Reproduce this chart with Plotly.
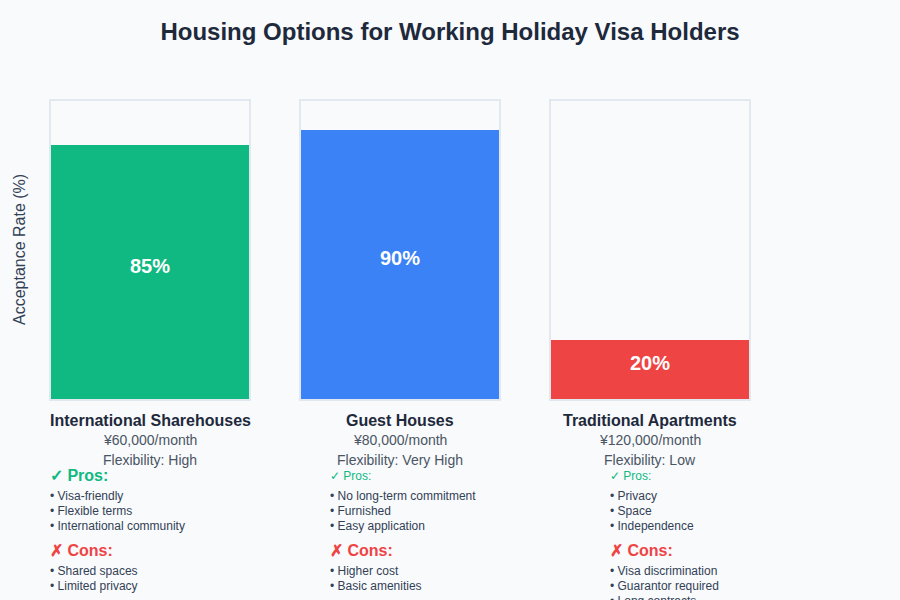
import plotly.graph_objects as go

# data
categories = ["International Sharehouses", "Guest Houses", "Traditional Apartments"]
acceptance = [85, 90, 20]
prices = ["¥60,000/month", "¥80,000/month", "¥120,000/month"]
flexibility = ["High", "Very High", "Low"]
pros = [
    ["Visa-friendly", "Flexible terms", "International community"],
    ["No long-term commitment", "Furnished", "Easy application"],
    ["Privacy", "Space", "Independence"],
]
cons = [
    ["Shared spaces", "Limited privacy"],
    ["Higher cost", "Basic amenities"],
    ["Visa discrimination", "Guarantor required", "Long contracts"],
]
bar_colors = ["#10b981", "#3b82f6", "#ef4444"]

FONT = "Liberation Sans, Arial, sans-serif"
DARK = "#1e293b"
TEXT = "#334155"
GREY = "#4b5563"
GREEN = "#10b981"
RED = "#ef4444"


def px_x(px):
    # pixel -> x data (bar spacing 250px, plot starts at 0)
    return px / 250 - 0.6


def px_y(px):
    # pixel -> y data (0% at 400px, 100% at 100px)
    return (400 - px) / 3


def paper_x(px):
    return px / 900


def paper_y(px):
    # plot area spans 95px..405px
    return (405 - px) / 310


xs = list(range(len(categories)))

fig = go.Figure()
fig.add_trace(go.Bar(
    x=xs, y=acceptance, width=0.792,
    marker=dict(color=bar_colors, line_width=0),
    hoverinfo="skip",
))
fig.add_trace(go.Bar(
    x=xs, y=[100] * len(xs), width=0.8,
    marker=dict(color="rgba(0,0,0,0)", line=dict(color="#e2e8f0", width=2)),
    hoverinfo="skip",
))

ann = []
for i, name in enumerate(categories):
    ann.append(dict(xref="x", yref="y", x=i, y=acceptance[i] / 2, yshift=7,
                    text=f"<b>{acceptance[i]}%</b>", font=dict(size=20, color="white")))
    cx = paper_x([150, 400, 650][i])
    ann.append(dict(x=cx, y=paper_y(420), text=f"<b>{name}</b>", font=dict(size=16, color=DARK)))
    ann.append(dict(x=cx, y=paper_y(440), text=prices[i], font=dict(size=14, color=GREY)))
    ann.append(dict(x=cx, y=paper_y(460), text=f"Flexibility: {flexibility[i]}",
                    font=dict(size=14, color=GREY)))

    left = paper_x([50, 330, 610][i])
    if i == 0:
        ann.append(dict(x=left, y=paper_y(475), text="<b>✓ Pros:</b>", xanchor="left",
                        font=dict(size=16, color=GREEN)))
    else:
        ann.append(dict(x=left, y=paper_y(476), text="✓ Pros:", xanchor="left",
                        font=dict(size=12, color=GREEN)))
    for k, p in enumerate(pros[i]):
        ann.append(dict(x=left, y=paper_y(496 + 15 * k), text=f"• {p}", xanchor="left",
                        font=dict(size=12, color=TEXT)))
    ann.append(dict(x=left, y=paper_y(550), text="<b>✗ Cons:</b>", xanchor="left",
                    font=dict(size=16, color=RED)))
    for k, c in enumerate(cons[i]):
        ann.append(dict(x=left, y=paper_y(571 + 15 * k), text=f"• {c}", xanchor="left",
                        font=dict(size=12, color=TEXT)))

for a in ann:
    a.setdefault("xref", "paper")
    a.setdefault("yref", "paper")
    a.setdefault("showarrow", False)
    a.setdefault("xanchor", "center")
    a["yanchor"] = "middle"
    if a["xanchor"] == "left":
        a["xshift"] = -2

ann.append(dict(xref="paper", yref="paper", x=paper_x(19), y=paper_y(250),
                text="Acceptance Rate (%)", textangle=-90, showarrow=False,
                xanchor="center", yanchor="middle", font=dict(size=16, color=TEXT)))

fig.update_layout(
    width=900, height=600,
    margin=dict(l=0, r=0, t=95, b=195),
    paper_bgcolor="#f8fafc", plot_bgcolor="#f8fafc",
    barmode="overlay", showlegend=False,
    font=dict(family=FONT),
    title=dict(text="<b>Housing Options for Working Holiday Visa Holders</b>",
               x=0.5, xanchor="center", y=1 - 32 / 600, yanchor="middle",
               font=dict(size=24, color=DARK)),
    xaxis=dict(range=[px_x(0), px_x(900)], visible=False, fixedrange=True),
    yaxis=dict(range=[px_y(405), px_y(95)], visible=False, fixedrange=True),
    annotations=ann,
)

fig.write_html("out.html", config={"displayModeBar": False},
               post_script="document.body.style.margin='0';")
